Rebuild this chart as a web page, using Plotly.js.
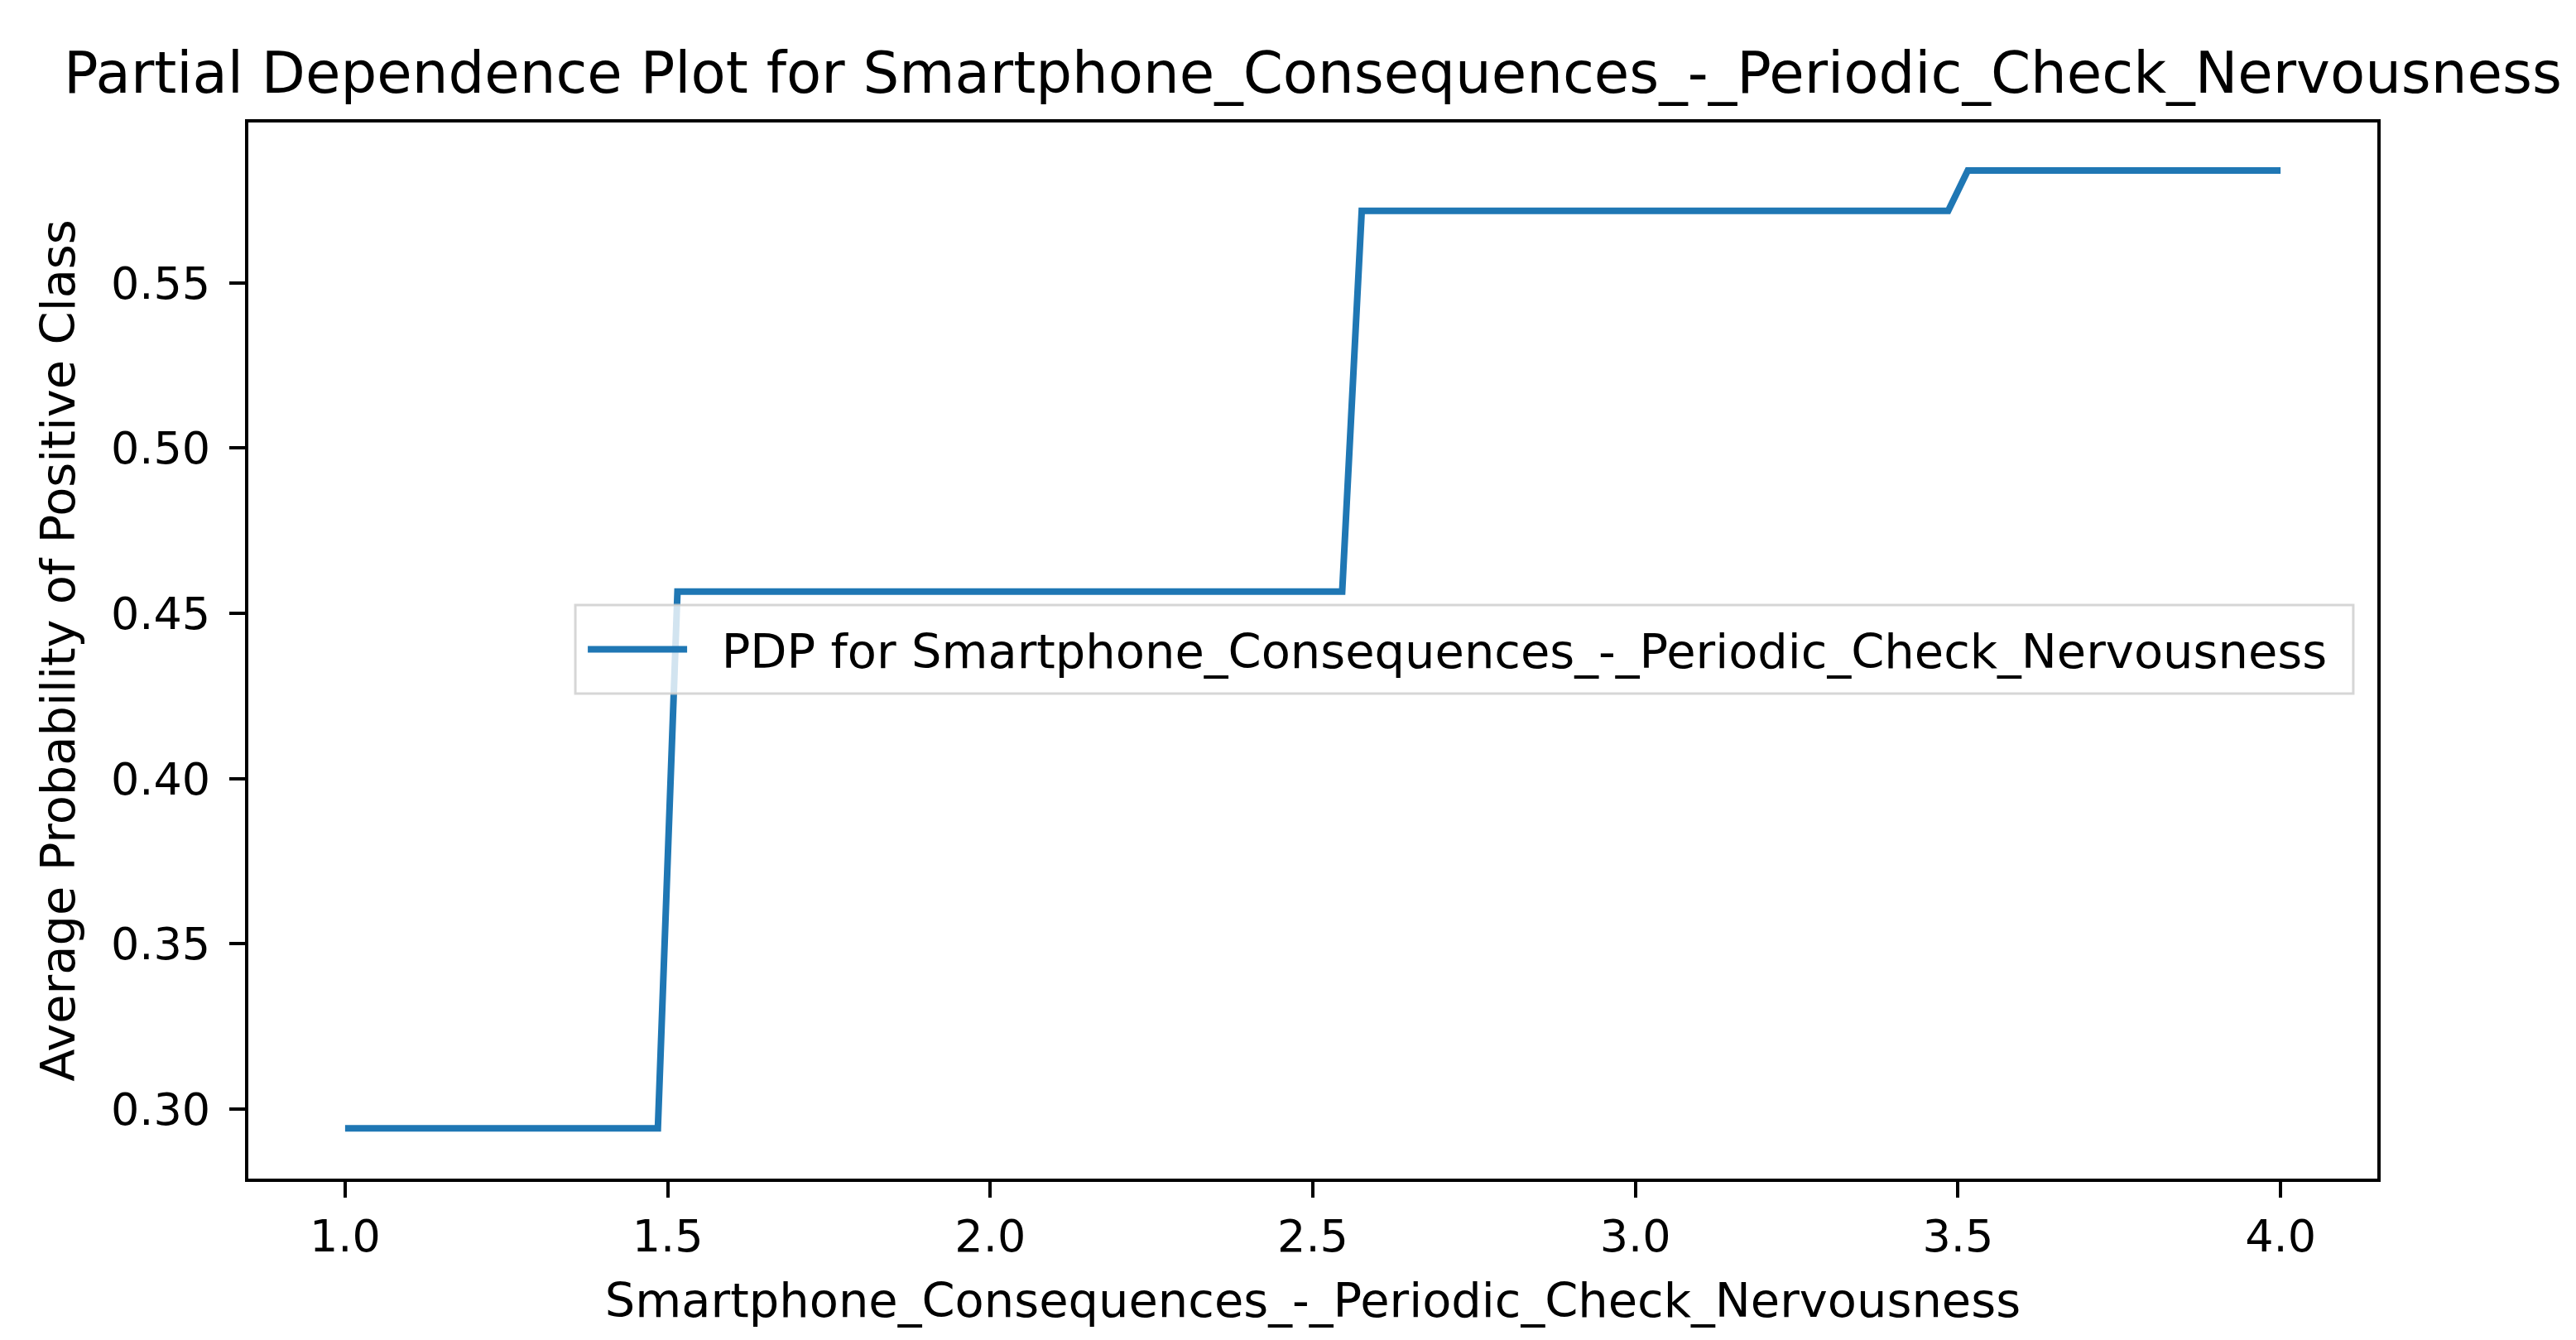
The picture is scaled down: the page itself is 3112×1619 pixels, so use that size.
<!DOCTYPE html>
<html>
<head>
<meta charset="utf-8">
<script src="https://cdn.plot.ly/plotly-3.0.1.min.js"></script>
<style>
  html, body { margin: 0; padding: 0; background: #ffffff; }
  #chart { width: 3112px; height: 1619px; }
</style>
</head>
<body>
<div id="chart"></div>
<script>
// Feature grid points where the partial dependence curve changes slope
const featureValues = [1.0, 1.4848, 1.5152, 2.5455, 2.5758, 3.4848, 3.5152, 4.0];
// Average predicted probability of the positive class at those points
const avgProbability = [0.2942, 0.2942, 0.4566, 0.4566, 0.5718, 0.5718, 0.5840, 0.5840];

const xTickVals = [1.0, 1.5, 2.0, 2.5, 3.0, 3.5, 4.0];
const xTickText = ["1.0", "1.5", "2.0", "2.5", "3.0", "3.5", "4.0"];
const yTickVals = [0.30, 0.35, 0.40, 0.45, 0.50, 0.55];
const yTickText = ["0.30", "0.35", "0.40", "0.45", "0.50", "0.55"];

const featureName = "Smartphone_Consequences_-_Periodic_Check_Nervousness";
const titleText = "Partial Dependence Plot for " + featureName;
const seriesName = "PDP for " + featureName;
const yTitle = "Average Probability of Positive Class";

const font = "DejaVu Sans, Liberation Sans, sans-serif";

const trace = {
  x: featureValues,
  y: avgProbability,
  type: "scatter",
  mode: "lines",
  name: "\u00a0\u00a0" + seriesName,
  line: { color: "#1f77b4", width: 8 },
  showlegend: true
};

const axisCommon = {
  showgrid: false,
  zeroline: false,
  showline: true,
  mirror: true,
  linecolor: "#000000",
  linewidth: 4,
  ticks: "outside",
  ticklen: 19,
  tickwidth: 4,
  tickcolor: "#000000",
  tickfont: { family: font, size: 54, color: "#000000" },
  automargin: false,
  tickmode: "array"
};

const layout = {
  width: 3112,
  height: 1619,
  paper_bgcolor: "#ffffff",
  plot_bgcolor: "#ffffff",
  margin: { l: 300, r: 240, t: 148, b: 195, pad: 0 },
  title: {
    text: titleText,
    font: { family: font, size: 69, color: "#000000" },
    x: 0.5, xref: "paper", xanchor: "center",
    y: 1, yref: "paper", yanchor: "bottom",
    pad: { b: 36 }
  },
  xaxis: Object.assign({}, axisCommon, {
    range: [0.85, 4.15],
    tickvals: xTickVals,
    ticktext: xTickText,
    ticklabelstandoff: 0,
    title: { text: featureName, font: { family: font, size: 57.5, color: "#000000" }, standoff: 28 }
  }),
  yaxis: Object.assign({}, axisCommon, {
    range: [0.27897, 0.59853],
    tickvals: yTickVals,
    ticktext: yTickText,
    ticklabelstandoff: 12,
    title: { text: yTitle, font: { family: font, size: 57.5, color: "#000000" }, standoff: 26 }
  }),
  // legend frame (matplotlib-style box, semi-transparent white)
  shapes: [{
    type: "rect", xref: "paper", yref: "paper", layer: "above",
    x0: 0.1536, x1: 0.9887, y0: 0.4592, y1: 0.5431,
    fillcolor: "rgba(255,255,255,0.8)",
    line: { color: "rgba(204,204,204,0.8)", width: 3 }
  }],
  showlegend: true,
  legend: {
    x: 0.1575, xanchor: "left", xref: "paper",
    y: 0.501, yanchor: "middle", yref: "paper",
    bgcolor: "rgba(0,0,0,0)",
    borderwidth: 0,
    font: { family: font, size: 57.5, color: "#000000" },
    itemwidth: 120,
    tracegroupgap: 0
  }
};

Plotly.newPlot("chart", [trace], layout, { displayModeBar: false, staticPlot: true });
</script>
</body>
</html>
